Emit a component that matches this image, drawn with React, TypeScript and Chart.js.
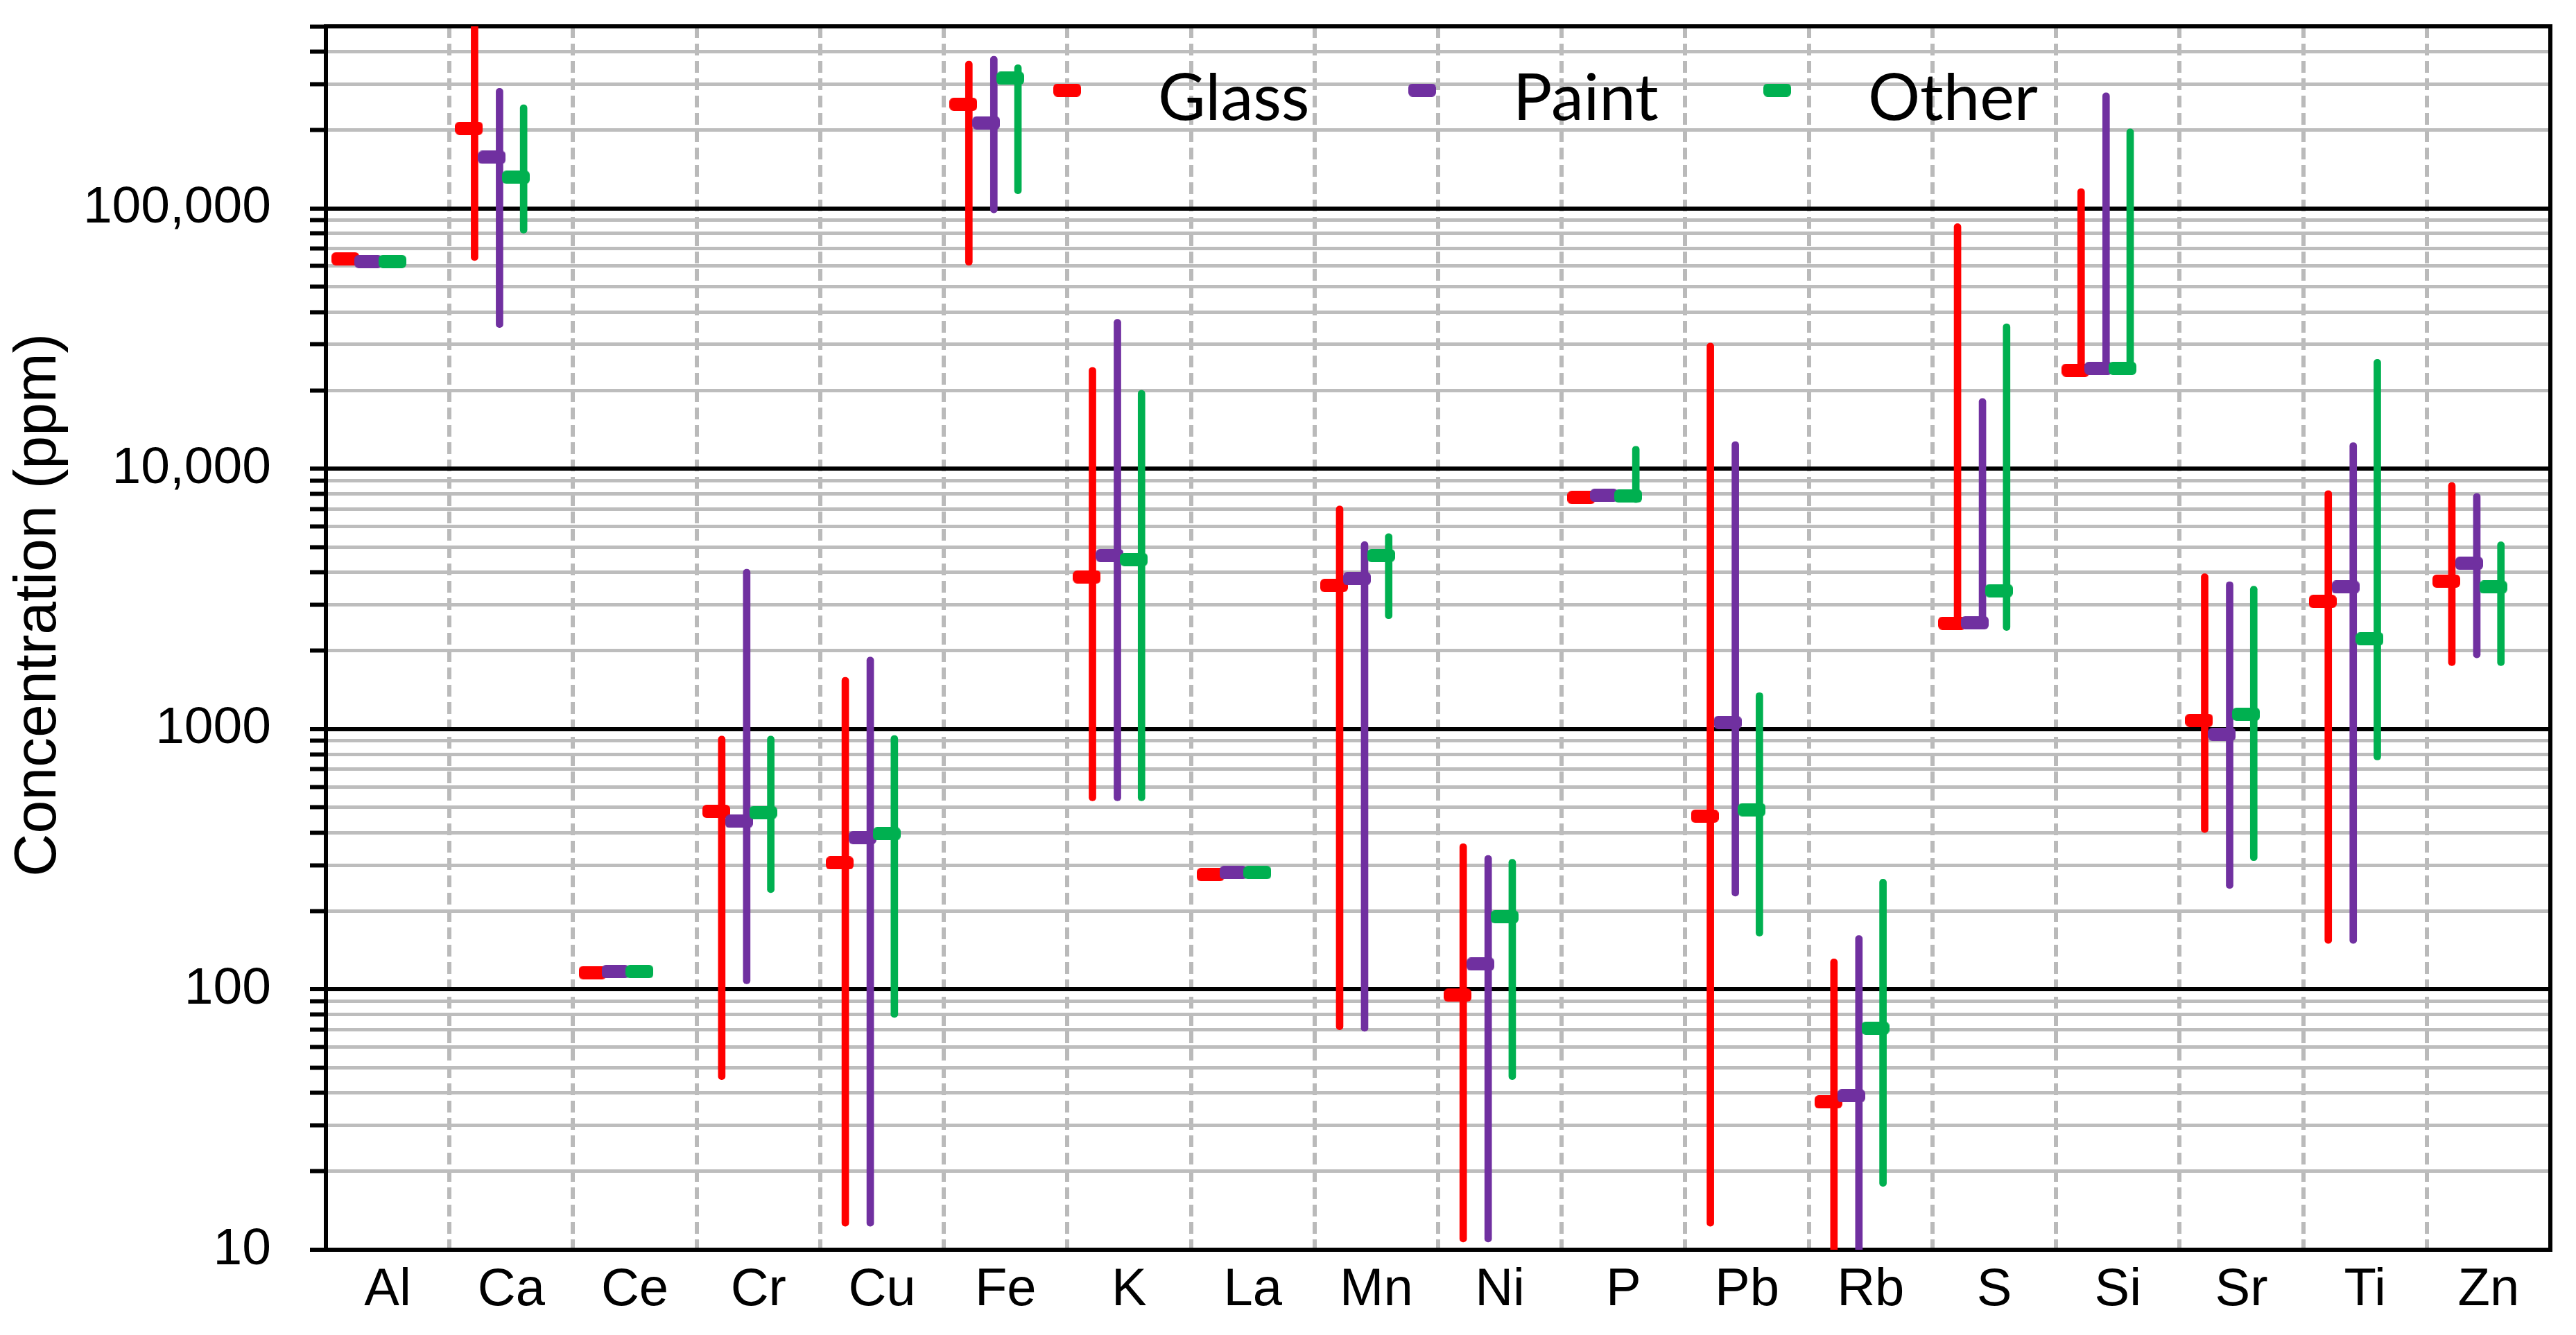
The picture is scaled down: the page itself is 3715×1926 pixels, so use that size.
import { useEffect, useRef } from 'react';
import { Chart, registerables } from 'chart.js';

Chart.register(...registerables);

// ---------- data ----------
const categories = ['Al', 'Ca', 'Ce', 'Cr', 'Cu', 'Fe', 'K', 'La', 'Mn', 'Ni', 'P', 'Pb', 'Rb', 'S', 'Si', 'Sr', 'Ti', 'Zn'];
const seriesNames = ['Glass', 'Paint', 'Other'];

const glassMedian = [64000, 203000, 116, 483, 306, 251000, 3840, 276, 3560, 95, 7750, 463, 37, 2550, 23900, 1080, 3090, 3700];
const glassMin = [null, 63000, null, 45, 12.3, 60400, 530, null, 70, 10.7, null, 12.3, 9, 2500, 23000, 400, 150, 1750];
const glassMax = [null, 600000, null, 940, 1580, 368000, 24500, null, 7200, 363, null, 30400, 131, 87400, 119000, 3950, 8240, 8850];

const paintMedian = [62500, 157000, 117, 442, 383, 213000, 4640, 281, 3780, 125, 7900, 1060, 39, 2560, 24300, 955, 3510, 4330];
const paintMin = [null, 34800, null, 105, 12.3, 96000, 530, null, 69, 10.7, null, 228, 9, 2500, 23000, 244, 150, 1875];
const paintMax = [null, 289000, null, 4110, 1890, 384000, 37500, null, 5250, 327, null, 12700, 161, 18600, 278000, 3680, 12600, 8030];

const otherMedian = [62500, 131600, 117, 478, 396, 316000, 4480, 281, 4640, 190, 7850, 490, 71, 3400, 24300, 1140, 2220, 3510];
const otherMin = [null, 80300, null, 235, 78, 113700, 530, null, 2650, 45, 7400, 160, 17.5, 2390, 23000, 312, 760, 1750];
const otherMax = [null, 250000, null, 940, 945, 356000, 20000, null, 5630, 316, 12200, 1380, 265, 36000, 202000, 3540, 26300, 5240];

const yMajorTicks = [10, 100, 1000, 10000, 100000];
const yMajorLabels = ['10', '100', '1000', '10,000', '100,000'];
const yMinorMultipliers = [2, 3, 4, 5, 6, 7, 8, 9];
const yMin = 10;
const yMax = 500000;
const yTitle = 'Concentration (ppm)';

// ---------- styles / layout ----------
const COLORS = ['#FF0000', '#7030A0', '#00B050'];
const LINE_OFFSETS = [-0.297, -0.095, 0.1];
const MARKER_OFFSETS = [-0.342, -0.157, 0.038];
const MARKER_W = 40;
const MARKER_H = 19;
const MARKER_R = 6;
const FONT = "'Liberation Sans', Arial, sans-serif";
const LEGEND_FONT = "Lato, 'Liberation Sans', sans-serif";
const W = 3715;
const H = 1926;
const PLOT_LEFT = 470;
const PLOT_TOP = 38;
const PLOT_RIGHT = 3678;
const PLOT_BOTTOM = 1803;

const SERIES = [
  { name: seriesNames[0], color: COLORS[0], min: glassMin, max: glassMax, med: glassMedian },
  { name: seriesNames[1], color: COLORS[1], min: paintMin, max: paintMax, med: paintMedian },
  { name: seriesNames[2], color: COLORS[2], min: otherMin, max: otherMax, med: otherMedian },
];

const yTickValues: number[] = [];
yMajorTicks.forEach((d) => {
  yTickValues.push(d);
  yMinorMultipliers.forEach((m) => {
    if (d * m <= yMax) yTickValues.push(d * m);
  });
});

const isMajor = (v: any) => typeof v === 'number' && yMajorTicks.indexOf(v) >= 0;

function makeMarker(color: string): HTMLCanvasElement {
  const c = document.createElement('canvas');
  c.width = MARKER_W;
  c.height = MARKER_H;
  const g = c.getContext('2d')!;
  g.fillStyle = color;
  g.beginPath();
  (g as any).roundRect(0, 0, MARKER_W, MARKER_H, MARKER_R);
  g.fill();
  return c;
}

const zeroPadding = (scale: any) => {
  scale.paddingLeft = 0;
  scale.paddingRight = 0;
  scale.paddingTop = 0;
  scale.paddingBottom = 0;
};

const framePlugin = {
  id: 'frame',
  beforeDatasetsDraw(chart: any) {
    const { ctx, chartArea: a } = chart;
    ctx.save();
    ctx.strokeStyle = '#000';
    ctx.lineWidth = 6;
    ctx.beginPath();
    ctx.moveTo(a.left - 3, a.top);
    ctx.lineTo(a.right, a.top);
    ctx.lineTo(a.right, a.bottom + 3);
    ctx.stroke();
    ctx.restore();
  },
};

function makeLegendPlugin(markers: HTMLCanvasElement[]) {
  return {
    id: 'insideLegend',
    afterDatasetsDraw(chart: any) {
      const ctx = chart.ctx;
      ctx.save();
      ctx.font = `94px ${LEGEND_FONT}`;
      ctx.fillStyle = '#000';
      ctx.textBaseline = 'alphabetic';
      ctx.textAlign = 'left';
      seriesNames.forEach((name, i) => {
        const cx = 1539 + i * 512;
        const img = markers[i];
        ctx.drawImage(img, cx - img.width / 2, 130 - img.height / 2);
        ctx.fillText(name, cx + 131, 173);
      });
      ctx.restore();
    },
  };
}

export default function App() {
  const ref = useRef<HTMLCanvasElement>(null);

  useEffect(() => {
    const canvas = ref.current;
    if (!canvas) return;
    const markers = SERIES.map((s) => makeMarker(s.color));

    const datasets: any[] = [];
    SERIES.forEach((s, si) => {
      datasets.push({
        type: 'bar',
        label: s.name + ' range',
        data: categories
          .map((_, i) =>
            s.min[i] != null && s.max[i] != null ? { x: i + LINE_OFFSETS[si], y: [s.min[i], s.max[i]] } : null
          )
          .filter(Boolean),
        backgroundColor: s.color,
        borderWidth: 0,
        borderRadius: 5,
        borderSkipped: false,
        barThickness: 10,
        maxBarThickness: 10,
        grouped: false,
        order: 6 - si * 2,
      });
      datasets.push({
        type: 'scatter',
        label: s.name,
        data: categories
          .map((_, i) => (s.med[i] != null ? { x: i + MARKER_OFFSETS[si], y: s.med[i] } : null))
          .filter(Boolean),
        pointStyle: markers[si],
        pointRadius: 10,
        pointHoverRadius: 10,
        order: 5 - si * 2,
      });
    });

    const chart = new Chart(canvas, {
      type: 'bar',
      data: { datasets },
      options: {
        animation: false,
        responsive: true,
        maintainAspectRatio: false,
        devicePixelRatio: 1,
        events: [],
        layout: { padding: { left: 0, top: PLOT_TOP, right: W - PLOT_RIGHT, bottom: 0 } },
        plugins: { legend: { display: false }, tooltip: { enabled: false } },
        scales: {
          x: {
            type: 'linear',
            min: -0.5,
            max: 17.5,
            offset: false,
            afterBuildTicks: (scale: any) => {
              scale.ticks = categories.map((_, i) => ({ value: i }));
            },
            afterFit: (scale: any) => {
              scale.height = H - PLOT_BOTTOM;
              zeroPadding(scale);
            },
            grid: { offset: true, drawTicks: false, color: '#BABABA', lineWidth: 6, z: -2 },
            border: { display: true, color: '#000', width: 6, dash: [17, 8] },
            ticks: {
              autoSkip: false,
              maxRotation: 0,
              minRotation: 0,
              padding: 13,
              color: '#000',
              font: { family: FONT, size: 76 },
              callback: (_v: any, idx: number) => categories[idx] ?? '',
            },
          },
          y: {
            type: 'logarithmic',
            min: yMin,
            max: yMax,
            afterBuildTicks: (scale: any) => {
              scale.ticks = yTickValues.map((v) => ({ value: v }));
            },
            afterFit: (scale: any) => {
              scale.width = PLOT_LEFT;
              zeroPadding(scale);
            },
            grid: {
              color: (c: any) => (isMajor(c.tick?.value) ? '#000' : '#BDBDBD'),
              lineWidth: (c: any) => (isMajor(c.tick?.value) ? 6 : 5),
              tickLength: 23,
              tickColor: '#000',
              tickWidth: 6,
              z: -1,
            },
            border: { color: '#000', width: 6 },
            ticks: {
              autoSkip: false,
              padding: 56,
              color: '#000',
              font: { family: FONT, size: 75 },
              callback: (v: any) => {
                const k = yMajorTicks.indexOf(Number(v));
                return k >= 0 ? yMajorLabels[k] : '';
              },
            },
            title: {
              display: true,
              text: '    ' + yTitle,
              color: '#000',
              font: { family: FONT, size: 86 },
              padding: { top: 5, bottom: 0 },
            },
          },
        },
      } as any,
      plugins: [framePlugin, makeLegendPlugin(markers)],
    });

    return () => chart.destroy();
  }, []);

  return (
    <div style={{ position: 'fixed', left: 0, top: 0, width: W, height: H, background: '#fff' }}>
      <canvas ref={ref} />
    </div>
  );
}
